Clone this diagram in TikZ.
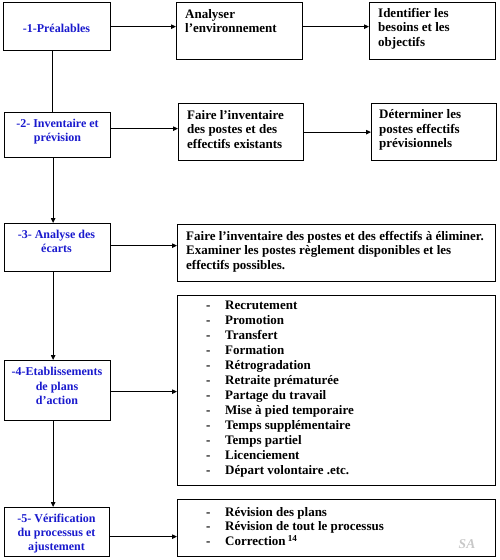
\documentclass[tikz,border=0pt]{standalone}
\usepackage{fontspec}
\setmainfont{Liberation Serif}
\usetikzlibrary{arrows.meta,calc}
\definecolor{stepblue}{RGB}{25,25,205}
\definecolor{wmgray}{RGB}{200,200,200}
\begin{document}
\begin{tikzpicture}[x=1pt,y=-1pt,
 box/.style={draw=black,line width=1.3pt,inner sep=0pt,anchor=north west},
 lefttxt/.style={font=\fontsize{12}{14.2}\selectfont\bfseries,text=stepblue,align=center,inner sep=0pt},
 righttxt/.style={font=\fontsize{13}{14.5}\selectfont\bfseries,align=left,inner sep=0pt,anchor=west},
 listtxt/.style={font=\fontsize{13}{15}\selectfont\bfseries,align=left,inner sep=0pt,anchor=west},
 arr/.style={line width=0.9pt,-{Triangle[length=5pt,width=4.5pt]}},
 plain/.style={line width=0.9pt}]
\useasboundingbox (0,0) rectangle (499,560);
% left boxes
\node[box,minimum width=107pt,minimum height=48pt] (b1) at (3,2) {};
\node[box,minimum width=106pt,minimum height=45pt] (b2) at (4,112) {};
\node[box,minimum width=106pt,minimum height=48pt] (b3) at (4,223) {};
\node[box,minimum width=106pt,minimum height=60pt] (b4) at (4,360) {};
\node[box,minimum width=105pt,minimum height=49pt] (b5) at (4,507) {};
% right boxes
\node[box,minimum width=126pt,minimum height=57pt] (A) at (176,2) {};
\node[box,minimum width=126pt,minimum height=57pt] (B) at (369,2) {};
\node[box,minimum width=125pt,minimum height=57pt] (C) at (178,103) {};
\node[box,minimum width=125pt,minimum height=57pt] (D) at (371,103) {};
\node[box,minimum width=318pt,minimum height=57pt] (E) at (177,224) {};
\node[box,minimum width=318pt,minimum height=190pt] (F) at (177,295) {};
\node[box,minimum width=318pt,minimum height=57pt] (G) at (177,499) {};
% left texts
\node[lefttxt] (t1) at (56.5,28) {-1-Préalables};
\node[lefttxt] (t2) at (57.5,131.5) {-2- Inventaire et\\prévision};
\node[lefttxt] (t3) at (56.5,241) {-3- Analyse des\\écarts};
\node[lefttxt] (t4) at (57,386) {-4-Etablissements\\de plans\\d’action};
\node[lefttxt] (t5) at (56.5,533.5) {-5- Vérification\\du processus et\\ajustement};
% right texts
\node[righttxt] (tA) at (185,21) {Analyser\\l’environnement};
\node[righttxt] (tB) at (378,28.7) {Identifier les\\besoins et les\\objectifs};
\node[righttxt] (tC) at (187,129.5) {Faire l’inventaire\\des postes et des\\effectifs existants};
\node[righttxt] (tD) at (379,130) {Déterminer les\\postes effectifs\\prévisionnels};
\node[righttxt] (tE) at (186,251.5) {Faire l’inventaire des postes et des effectifs à éliminer.\\Examiner les postes règlement disponibles et les\\effectifs possibles.};
\newcommand{\itm}[1]{\makebox[19pt][l]{-}#1}
\node[listtxt] (tF) at (206,389.5) {\itm{Recrutement}\\\itm{Promotion}\\\itm{Transfert}\\\itm{Formation}\\\itm{Rétrogradation}\\\itm{Retraite prématurée}\\\itm{Partage du travail}\\\itm{Mise à pied temporaire}\\\itm{Temps supplémentaire}\\\itm{Temps partiel}\\\itm{Licenciement}\\\itm{Départ volontaire .etc.}};
\node[righttxt] (tG) at (206,526.5) {\itm{Révision des plans}\\\itm{Révision de tout le processus}\\\itm{Correction\,\textsuperscript{14}}};
\node[font=\fontsize{13.5}{13.5}\selectfont\bfseries\itshape,text=wmgray,inner sep=0pt] (sa) at (467,544) {SA};
% horizontal arrows
\draw[arr] (b1.east) -- (b1.east -| A.west);
\draw[arr] ([yshift=4.5pt]A.east) -- ([yshift=4.5pt]A.east -| B.west);
\draw[arr] ([yshift=6.5pt]b2.east) -- ([yshift=6.5pt]b2.east -| C.west);
\draw[arr] (C.east) -- (C.east -| D.west);
\draw[arr] ([yshift=2pt]b3.east) -- ([yshift=2pt]b3.east -| E.west);
\draw[arr] ([yshift=-1pt]b4.east) -- ([yshift=-1pt]b4.east -| F.west);
\draw[arr] ([yshift=-4.5pt]b5.east) -- ([yshift=-4.5pt]b5.east -| G.west);
% vertical connectors
\draw[plain] ([xshift=-4.5pt]b1.south) -- ([xshift=-4.5pt]b1.south |- b2.north);
\draw[arr] ([xshift=-4.5pt]b2.south) -- ([xshift=-4.5pt]b2.south |- b3.north);
\draw[arr] ([xshift=-4.5pt]b3.south) -- ([xshift=-4.5pt]b3.south |- b4.north);
\draw[arr] ([xshift=-4.5pt]b4.south) -- ([xshift=-4.5pt]b4.south |- b5.north);
\end{tikzpicture}
\end{document}
